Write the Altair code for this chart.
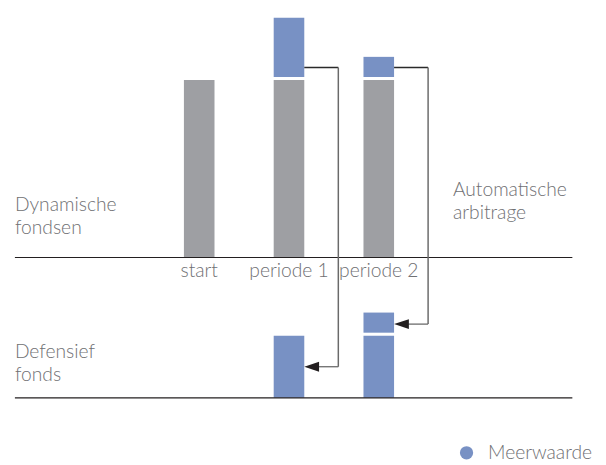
import altair as alt
import pandas as pd

# ---- data -------------------------------------------------------------
categories = ["start", "periode 1", "periode 2"]
dynamic_value = [100, 100, 100]      # value held in the dynamic funds
meerwaarde = [0, 35, 13]             # gain per period, moved by automatic arbitrage
panel_labels = ["Dynamische\nfondsen", "Defensief\nfonds"]
note_label = "Automatische\narbitrage"
legend_label = "Meerwaarde"

# ---- style / layout constants ----------------------------------------
GRAY = "#9e9fa3"
BLUE = "#7891c4"
TEXT = "#6f7073"
LINE = "#231f20"
FONT = "Lato"
FS = 19.5
W, H = 598, 455
U = 79          # upper-panel baseline on the shared y scale
LEVEL = 7       # height of the outgoing connector above the grey bar

# ---- derived tables ---------------------------------------------------
gray_rows, blue_base, blue_stack, arrows = [], [], [], []
carried = 0
for c, d, m in zip(categories, dynamic_value, meerwaarde):
    gray_rows.append({"cat": c, "lo": U, "hi": U + d})
    if m > 0:
        blue_stack.append({"cat": c, "lo": U + d, "hi": U + d + m, "s": legend_label})
        if carried > 0:
            blue_base.append({"cat": c, "lo": 0, "hi": carried, "s": legend_label})
            blue_stack.append({"cat": c, "lo": carried, "hi": carried + m, "s": legend_label})
        else:
            blue_base.append({"cat": c, "lo": 0, "hi": m, "s": legend_label})
        arrows.append({"cat": c, "top": U + d + LEVEL, "target": carried + m / 2})
        carried += m

gray_df = pd.DataFrame(gray_rows)
base_df = pd.DataFrame(blue_base)
stack_df = pd.DataFrame(blue_stack)
arrow_df = pd.DataFrame(arrows)
label_df = pd.DataFrame({"cat": categories})

xs = alt.Scale(type="point", domain=categories, range=[193.8, 375.8], padding=0)
ys = alt.Scale(domain=[-35, 217.8], nice=False, zero=False)
X = alt.X("cat:N", scale=xs, axis=None)
color = alt.Color(
    "s:N",
    scale=alt.Scale(domain=[legend_label], range=[BLUE]),
    legend=alt.Legend(
        title=None, orient="none", legendX=455, legendY=438, padding=0,
        symbolType="circle", symbolSize=180, symbolStrokeWidth=0,
        labelFont=FONT, labelFontSize=FS, labelColor=TEXT, labelOffset=12,
        labelFontWeight=300,
    ),
)

gray = alt.Chart(gray_df).mark_bar(width=31, color=GRAY).encode(
    x=X, y=alt.Y("lo:Q", scale=ys, axis=None), y2="hi:Q")
bbase = alt.Chart(base_df).mark_bar(width=31).encode(
    x=X, y=alt.Y("lo:Q", scale=ys, axis=None), y2="hi:Q", color=color)
bstack = alt.Chart(stack_df).mark_bar(width=31, yOffset=-3).encode(
    x=X, y=alt.Y("lo:Q", scale=ys, axis=None), y2="hi:Q", color=color)

baselines = alt.Chart(pd.DataFrame({"b": [U, 0]})).mark_rule(
    color=LINE, strokeWidth=1.2).encode(
    x=alt.value(7), x2=alt.value(572), y=alt.Y("b:Q", scale=ys, axis=None))

out_line = alt.Chart(arrow_df).mark_rule(
    color="#2a2a2a", strokeWidth=1.3, xOffset=15.5, x2Offset=50).encode(
    x=X, x2="cat:N", y=alt.Y("top:Q", scale=ys, axis=None))
down_line = alt.Chart(arrow_df).mark_rule(
    color="#6a6a6a", strokeWidth=1.5, xOffset=50).encode(
    x=X, y=alt.Y("top:Q", scale=ys, axis=None), y2="target:Q")
in_line = alt.Chart(arrow_df).mark_rule(
    color="#6a6a6a", strokeWidth=1.3, xOffset=29, x2Offset=50).encode(
    x=X, x2="cat:N", y=alt.Y("target:Q", scale=ys, axis=None))
head = alt.Chart(arrow_df).mark_point(
    shape="M-1,0L1,-0.67L1,0.67Z", size=225, filled=True, opacity=1,
    color=LINE, xOffset=23).encode(
    x=X, y=alt.Y("target:Q", scale=ys, axis=None))

cat_text = alt.Chart(label_df).mark_text(
    font=FONT, fontSize=FS, fontWeight=300, color=TEXT,
    baseline="alphabetic", dy=20).encode(
    x=X, y=alt.datum(U, scale=ys), text="cat:N")

def note(txt, x, y):
    return alt.Chart(pd.DataFrame({"t": [txt]})).mark_text(
        font=FONT, fontSize=FS, fontWeight=300, color=TEXT, align="left",
        baseline="alphabetic", lineBreak="\n", lineHeight=23.5).encode(
        x=alt.value(x), y=alt.value(y), text="t:N")

notes = note(panel_labels[0], 7, 203) + note(panel_labels[1], 7, 351.5) + note(note_label, 451, 187.7)

chart = alt.layer(
    gray, bbase, bstack, baselines, out_line, down_line, in_line, head, cat_text, notes
).properties(
    width=W, height=H, padding=0, autosize=alt.AutoSizeParams(type="none")
).configure_view(stroke=None)

chart.save("out.html", embed_options={"renderer": "svg", "actions": False})
